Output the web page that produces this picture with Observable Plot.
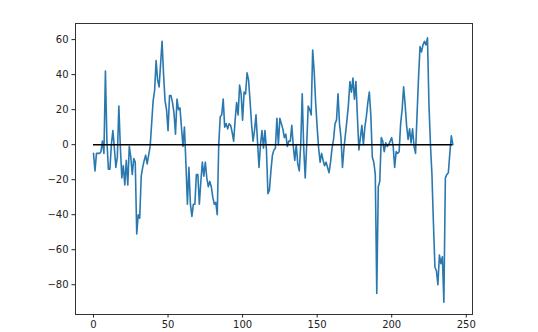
<!DOCTYPE html>
<html>
<head>
<meta charset="utf-8">
<script src="https://cdn.jsdelivr.net/npm/d3@7"></script>
<script src="https://cdn.jsdelivr.net/npm/@observablehq/plot@0.6"></script>
<style>
  html, body { margin: 0; padding: 0; background: #fff; }
  #chart { width: 538px; height: 332px; }
</style>
</head>
<body>
<div id="chart"></div>
<script>
// Series values (index 0..N-1)
const values = [
  -5, -15, -5, -5, -5, -4, 2, -5, 42, 2,
  -14, -14, 0, 8, -2, -13, -7, 22, -1, -19,
  -12, -23, -9, -23, -1, -7, -17, -8, -10, -51,
  -40, -42, -18, -13, -9, -6, -11, -6, -1, 12,
  25, 31, 48, 37, 33, 46, 59, 40, 25, 20,
  8, 28, 28, 24, 18, 6, 26, 20, 21, 10,
  -1, 10, -11, -34, -13, -34, -41, -34, -34, -17,
  -17, -34, -21, -10, -18, -10, -19, -24, -21, -24,
  -30, -34, -33, -40, 0, 16, 17, 26, 10, 12,
  9, 12, 11, 7, 2, 14, 24, 17, 34, 29,
  14, 30, 29, 41, 37, 25, 12, 2, 8, 17,
  2, -13, 0, 8, -2, 8, -3, -28, -26, -15,
  -6, -3, -2, 15, 0, 15, 12, 9, 4, 6,
  -1, 2, 2, 11, -1, -9, 0, -11, -15, 0,
  29, -2, -19, 0, 22, 20, 17, 54, 42, 24,
  10, -2, -10, -5, -9, -12, -10, -13, -16, -10,
  -2, 3, 12, 14, 29, 12, 4, -13, -2, 6,
  14, 23, 36, 30, 38, 26, 36, 16, -3, 4,
  11, 0, 10, 16, 24, 30, 17, -7, -10, -17,
  -85, -24, -21, 4, 2, -4, 1, -1, 0, 2,
  4, -1, -13, -4, -5, -4, 12, 20, 33, 23,
  11, 3, 9, 1, 9, -1, -5, 17, 38, 56,
  53, 57, 59, 57, 61, 23, 0, -17, -45, -70,
  -72, -80, -63, -68, -64, -90, -19, -17, -16, -5,
  5, 0
];
const xTicks = [0, 50, 100, 150, 200, 250];
const yTicks = [-80, -60, -40, -20, 0, 20, 40, 60];
const zeroLevel = [0];

const series = values.map((v, i) => ({i, v}));
const fmt = d => (d < 0 ? "\u2212" + Math.abs(d) : String(d));

const chart = Plot.plot({
  width: 538,
  height: 332,
  marginLeft: 75,
  marginRight: 66,
  marginTop: 23,
  marginBottom: 18,
  style: {fontFamily: "DejaVu Sans", fontSize: "10px", color: "#222", background: "#fff"},
  x: {domain: [-12.07, 254.2]},
  y: {domain: [-97, 69.2]},
  marks: [
    Plot.lineY(series, {x: "i", y: "v", stroke: "#2a78b0", strokeWidth: 1.6}),
    Plot.ruleY(zeroLevel, {x1: 0, x2: values.length - 1, stroke: "#000", strokeWidth: 1.5}),
    Plot.frame({stroke: "#333", strokeWidth: 1}),
    Plot.axisX({ticks: xTicks, tickSize: 3.5, tickPadding: 3, label: null, tickFormat: fmt, fontSize: 10}),
    Plot.axisY({ticks: yTicks, tickSize: 3.5, tickPadding: 3.5, label: null, tickFormat: fmt, fontSize: 10})
  ]
});
document.getElementById("chart").appendChild(chart);
</script>
</body>
</html>
